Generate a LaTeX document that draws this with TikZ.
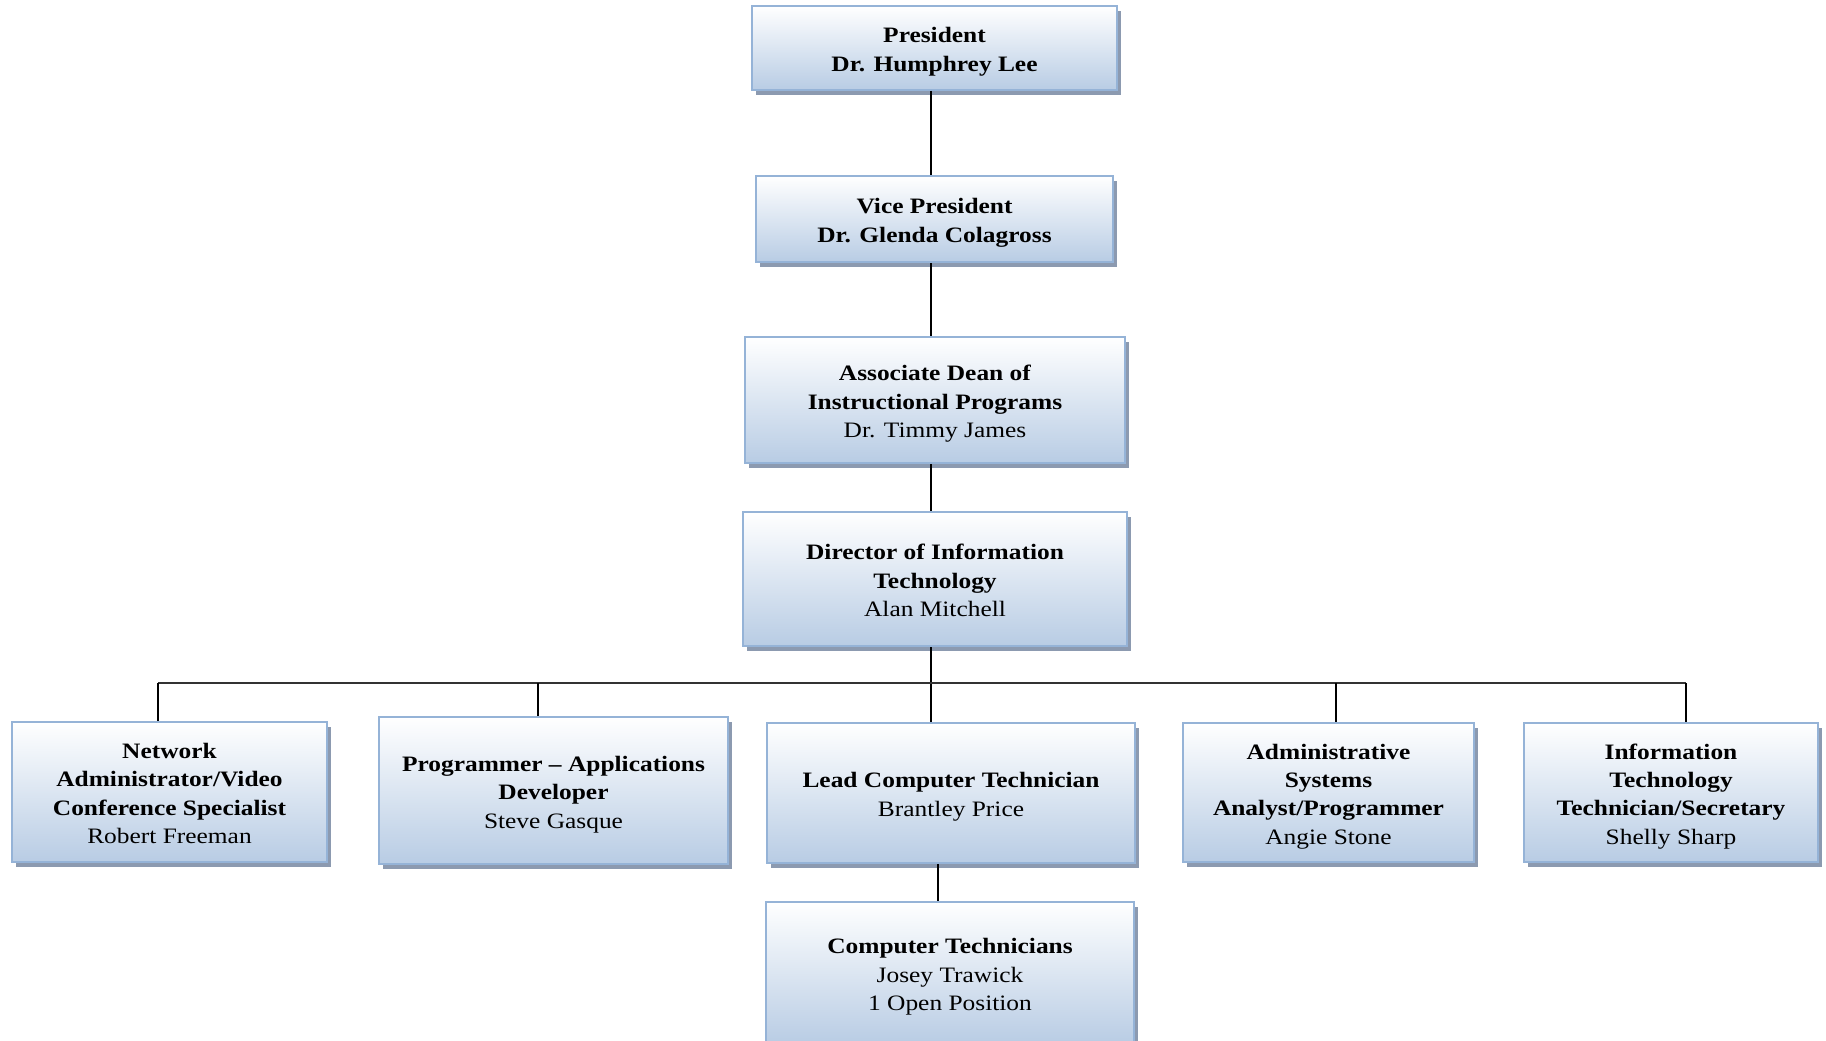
\documentclass[tikz,border=0pt]{standalone}
\usepackage{fontspec}
\setmainfont[FakeStretch=1.155]{Liberation Serif}
\usetikzlibrary{shadows}
\definecolor{boxb}{RGB}{184,204,228}
\definecolor{boxline}{RGB}{149,179,215}
\definecolor{shadowc}{RGB}{140,154,176}
\newcommand\boxtext[1]{\raisebox{-2.6pt}[\height][\depth]{\begin{tabular}{@{}c@{}}#1\end{tabular}}}
\tikzset{
  orgbox/.style={rectangle, draw=boxline, line width=1.5pt, inner sep=0pt,
    top color=white, bottom color=boxb,
    font=\fontsize{16.5}{21.3}\selectfont,
    general shadow={fill=shadowc, shadow xshift=3pt, shadow yshift=-3.75pt}},
  conn/.style={draw=black, line width=1.1pt},
  busline/.style={draw=black!80, line width=1.4pt}
}
\begin{document}
\begin{tikzpicture}[x=0.75pt,y=-0.75pt]
\useasboundingbox (0,0) rectangle (1826,1041);
\clip (0,0) rectangle (1826,1041);
% nodes
\node[orgbox, minimum width=273.75pt, minimum height=63pt] (pres) at (934.5,48)
  {\boxtext{\textbf{President}\\\textbf{Dr. Humphrey Lee}}};
\node[orgbox, minimum width=267.75pt, minimum height=64.5pt] (vp) at (934.5,219)
  {\boxtext{\textbf{Vice President}\\\textbf{Dr. Glenda Colagross}}};
\node[orgbox, minimum width=285pt, minimum height=94.5pt] (ad) at (935,400)
  {\boxtext{\textbf{Associate Dean of}\\\textbf{Instructional Programs}\\Dr. Timmy James}};
\node[orgbox, minimum width=288pt, minimum height=100.5pt] (dir) at (935,579)
  {\boxtext{\textbf{Director of Information}\\\textbf{Technology}\\Alan Mitchell}};
\node[orgbox, minimum width=236.25pt, minimum height=105pt] (net) at (169.5,792)
  {\boxtext{\textbf{Network}\\\textbf{Administrator/Video}\\\textbf{Conference Specialist}\\Robert Freeman}};
\node[orgbox, minimum width=261.75pt, minimum height=110.25pt] (prog) at (553.5,790.5)
  {\boxtext{\textbf{Programmer – Applications}\\\textbf{Developer}\\Steve Gasque}};
\node[orgbox, minimum width=276pt, minimum height=105pt] (lead) at (951,793)
  {\boxtext{\textbf{Lead Computer Technician}\\Brantley Price}};
\node[orgbox, minimum width=218.25pt, minimum height=104.25pt] (adm) at (1328.5,792.5)
  {\boxtext{\textbf{Administrative}\\\textbf{Systems}\\\textbf{Analyst/Programmer}\\Angie Stone}};
\node[orgbox, minimum width=220.5pt, minimum height=104.25pt] (it) at (1671,792.5)
  {\boxtext{\textbf{Information}\\\textbf{Technology}\\\textbf{Technician/Secretary}\\Shelly Sharp}};
\node[orgbox, minimum width=276pt, minimum height=106.5pt] (ct) at (950,973)
  {\boxtext{\textbf{Computer Technicians}\\Josey Trawick\\1 Open Position}};
% connector helpers
\coordinate (trunk) at (931,0);
\coordinate (bnet) at (158,683);
\coordinate (bprog) at (538,683);
\coordinate (badm) at (1336,683);
\coordinate (bit) at (1686,683);
\coordinate (bct) at (938,0);
% connectors
\draw[conn] (pres.south -| trunk) -- (vp.north -| trunk);
\draw[conn] (vp.south -| trunk) -- (ad.north -| trunk);
\draw[conn] (ad.south -| trunk) -- (dir.north -| trunk);
\draw[conn] (dir.south -| trunk) -- (lead.north -| trunk);
\draw[busline] (bnet) -- (bit);
\draw[conn] (bnet) -- (bnet |- net.north);
\draw[conn] (bprog) -- (bprog |- prog.north);
\draw[conn] (badm) -- (badm |- adm.north);
\draw[conn] (bit) -- (bit |- it.north);
\draw[conn] (lead.south -| bct) -- (ct.north -| bct);
\end{tikzpicture}
\end{document}
